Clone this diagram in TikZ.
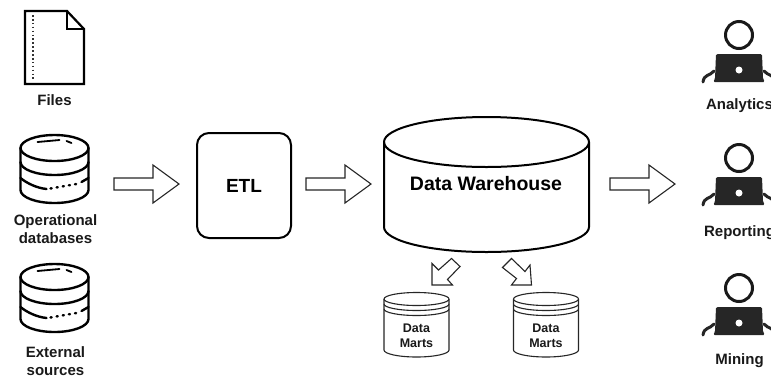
\documentclass[tikz,border=0pt]{standalone}
\usepackage{fontspec}
\setmainfont{Liberation Sans}
\tikzset{
  ln/.style={draw=black,line width=2pt,line join=round,line cap=round},
  thin ln/.style={draw=black!85,line width=1.1pt,line join=miter},
  lbl/.style={font=\fontsize{15}{18}\selectfont\bfseries,align=center,text=black!90,inner sep=0pt},
  mart lbl/.style={font=\fontsize{12.5}{15}\selectfont\bfseries,align=center,text=black!90,inner sep=0pt},
  pics/dbicon/.style={code={
    \draw[ln,line width=2.4pt,fill=white] (-34,-21) arc[start angle=180,end angle=360,x radius=34,y radius=13] -- (34,21) arc[start angle=0,end angle=180,x radius=34,y radius=13] -- cycle;
    \draw[ln,line width=2.4pt] (-34,-21) arc[start angle=180,end angle=0,x radius=34,y radius=13];
    \draw[ln,line width=2.4pt] (-34,-7) arc[start angle=180,end angle=0,x radius=34,y radius=13];
    \draw[ln,line width=2.4pt] (-34,9) .. controls (-28,14) and (-18,19) .. (-8,20);
    \draw[ln,line width=2.4pt,dash pattern=on 1.2pt off 5pt] (-4,19.5) -- (22,15);
    \draw[ln,line width=2.4pt] (27,13) -- (34,9);
    \draw[ln,line width=1.8pt] (-17,-27) -- (5,-29);
    \draw[ln,line width=1.8pt] (12,-28) -- (17,-26);
  }},
  pics/person/.style={code={
    \draw[draw=black!90,line width=3pt] (0,0) circle[radius=13.5];
    \fill[black!85,rounded corners=1.5pt] (-23,19) -- (23,19) -- (24,44) -- (26,47) -- (-26,47) -- (-24,44) -- cycle;
    \fill[white] (0,35) circle[radius=3.5];
    \draw[black!85,line width=3pt,line cap=round] (-36,47) .. controls (-35,39) and (-29,41) .. (-25,36);
    \draw[black!85,line width=3pt,line cap=round] (36,47) .. controls (35,39) and (29,41) .. (25,36);
  }},
  pics/mart/.style={code={
    \draw[thin ln,fill=white] (-32.5,-26) arc[start angle=180,end angle=360,x radius=32.5,y radius=6.5] -- (32.5,25) arc[start angle=0,end angle=180,x radius=32.5,y radius=7] -- cycle;
    \draw[thin ln] (-32.5,-26) arc[start angle=180,end angle=0,x radius=32.5,y radius=6.5];
    \draw[thin ln] (-32.5,-21) arc[start angle=180,end angle=0,x radius=32.5,y radius=6.5];
    \draw[thin ln] (-32.5,-16) arc[start angle=180,end angle=0,x radius=32.5,y radius=6.5];
  }},
  pics/bigarrow/.style={code={
    \draw[thin ln,fill=white] (0,-6) -- (39,-6) -- (39,-19) -- (65,0) -- (39,19) -- (39,6) -- (0,6) -- cycle;
  }}
}
\begin{document}
\begin{tikzpicture}[x=1pt,y=-1pt]
\useasboundingbox (0,0) rectangle (771,376);
\clip (0,0) rectangle (771,376);
% Files
\draw[ln,line join=miter,line width=2.2pt,fill=white] (25,11) -- (67,11) -- (84,29) -- (84,84) -- (25,84) -- cycle;
\draw[ln,line join=miter,line width=2.2pt] (67,11) -- (67,29) -- (84,29);
\draw[black!80,line width=2.4pt,dash pattern=on 1.6pt off 2.3pt] (33,15) -- (33,81);
\node[lbl] (files) at (54.5,100.5) {Files};
% sources
\path (54.5,169) pic {dbicon};
\node[lbl] (opdb) at (55.5,229) {Operational\\databases};
\path (54.5,298) pic {dbicon};
\node[lbl] (ext) at (55.5,361) {External\\sources};
% ETL
\node[draw=black,line width=2pt,rounded corners=12pt,minimum width=94pt,minimum height=105pt,font=\fontsize{19}{22}\selectfont\bfseries] (etl) at (244,185.5) {ETL};
% DW
\draw[ln,fill=white] (384,142) arc[start angle=180,end angle=360,x radius=102.5,y radius=25] -- (589,227) arc[start angle=0,end angle=180,x radius=102.5,y radius=25] -- cycle;
\draw[ln] (384,142) arc[start angle=180,end angle=0,x radius=102.5,y radius=25];
\node[inner sep=0pt,font=\fontsize{19.5}{22}\selectfont\bfseries] (dw) at (486,184) {Data Warehouse};
% Big arrows
\path (114,184) pic {bigarrow};
\path (306,184) pic {bigarrow};
\path (610,184) pic {bigarrow};
% small arrows
\draw[thin ln,fill=white] (432,263.5) -- (438.5,270) -- (451.5,258.5) -- (460,266.5) -- (447.5,279.5) -- (452.5,285) -- (432,285) -- cycle;
\draw[thin ln,fill=white] (531.5,285) -- (511.5,285) -- (516.5,278.5) -- (502.5,267.5) -- (511.5,258.5) -- (525,271.5) -- (530,265) -- cycle;
% marts
\path (416.5,325) pic {mart};
\node[mart lbl] (m1) at (416.5,336) {Data\\Marts};
\path (546,325) pic {mart};
\node[mart lbl] (m2) at (546,336) {Data\\Marts};
% people
\path (739,35) pic {person};
\node[lbl] (an) at (739.5,106) {Analytics};
\path (739,158) pic {person};
\node[lbl] (rp) at (739.5,233) {Reporting};
\path (739,288) pic {person};
\node[lbl] (mi) at (739.5,360.5) {Mining};
\end{tikzpicture}
\end{document}
